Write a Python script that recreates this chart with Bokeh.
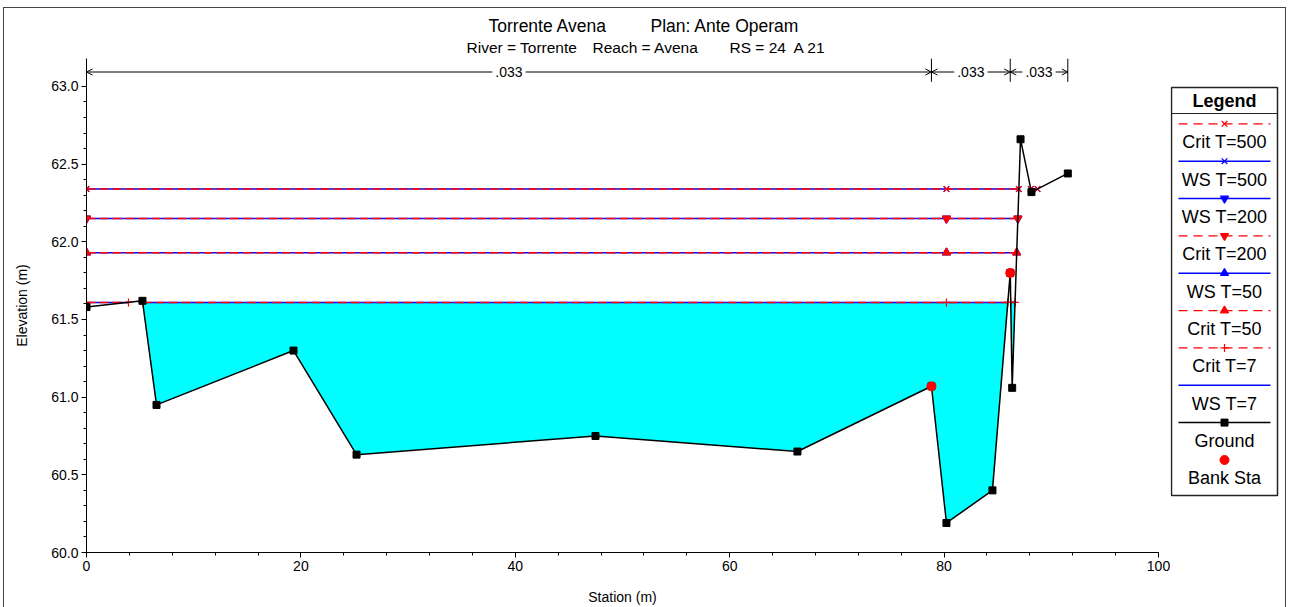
import numpy as np
from bokeh.plotting import figure
from bokeh.layouts import column, row
from bokeh.models import (Range1d, FixedTicker, NumeralTickFormatter, Arrow,
                          OpenHead, Label)
from bokeh.core.properties import value
from bokeh.embed import file_html
from bokeh.resources import INLINE

# ---------------- data ----------------
ground_sta = [0.0, 5.22, 6.53, 19.31, 25.19, 47.48, 66.32, 78.82, 80.22,
              84.51, 86.17, 86.35, 87.13, 88.15, 91.54]
ground_elev = [61.58, 61.62, 60.95, 61.30, 60.63, 60.75, 60.65, 61.07, 60.19,
               60.40, 61.80, 61.06, 62.66, 62.32, 62.44]
bank_sta = [78.82, 86.17]
profiles = ["T=7", "T=50", "T=200", "T=500"]
ws_elev = [61.61, 61.93, 62.15, 62.34]
crit_elev = [61.61, 61.93, 62.15, 62.34]
mid_marker_sta = 80.22
n_values = [".033", ".033", ".033"]
x_ticks = [0, 20, 40, 60, 80, 100]
y_ticks = [60.0, 60.5, 61.0, 61.5, 62.0, 62.5, 63.0]
title_parts = ["Torrente Avena", "Plan: Ante Operam"]
subtitle_parts = ["River = Torrente", "Reach = Avena", "RS = 24", "A 21"]
legend_labels = ["Crit T=500", "WS T=500", "WS T=200", "Crit T=200", "WS T=50",
                 "Crit T=50", "Crit T=7", "WS T=7", "Ground", "Bank Sta"]
x_label = "Station (m)"
y_label = "Elevation (m)"

FONT = "Liberation Sans"
BLUE = "#0000FF"
RED = "#FF0000"
CYAN = "#00FFFF"
marker_of = {"T=7": None, "T=50": "triangle", "T=200": "inverted_triangle",
             "T=500": "x"}
crit_marker_of = {"T=7": "cross", "T=50": "triangle",
                  "T=200": "inverted_triangle", "T=500": "x"}


def wet_intervals(sta, elev, level):
    out = []
    start = sta[0] if elev[0] < level else None
    for i in range(len(sta) - 1):
        x0, y0, x1, y1 = sta[i], elev[i], sta[i + 1], elev[i + 1]
        if (y0 < level) != (y1 < level):
            xc = x0 + (level - y0) * (x1 - x0) / (y1 - y0)
            if start is None:
                start = xc
            else:
                out.append((start, xc))
                start = None
    if start is not None:
        out.append((start, sta[-1]))
    return out


def marker_points(intervals):
    pts = []
    for a, b in intervals:
        pts += [a, b]
        if a < mid_marker_sta < b:
            pts.append(mid_marker_sta)
    return sorted(pts)


HEAD_H = 58
ROW_H = 607 - HEAD_H
BOTTOM = 55
MAIN_W = 1170
LEG_W = 1289 - MAIN_W

# ---------------- main plot ----------------
p = figure(width=MAIN_W, height=ROW_H, x_range=Range1d(0, 100),
           y_range=Range1d(60.0, 63.18), output_backend="svg",
           toolbar_location=None, min_border_left=86, min_border_right=12,
           min_border_top=0, min_border_bottom=BOTTOM)
p.grid.visible = False
p.outline_line_color = None
p.background_fill_color = None
p.border_fill_color = None

# water fill for lowest profile
lvl7 = ws_elev[0]
fx, fy = [], []
for a, b in wet_intervals(ground_sta, ground_elev, lvl7):
    inner = [(s, e) for s, e in zip(ground_sta, ground_elev) if a < s < b]
    xs = [a, b] + [s for s, e in reversed(inner)]
    ys = [lvl7, lvl7] + [e for s, e in reversed(inner)]
    fx.append(xs)
    fy.append(ys)
p.patches(fx, fy, fill_color=CYAN, line_color=None)

# water surfaces (WS blue solid, Crit red dashed)
for prof, lv in zip(profiles, ws_elev):
    iv = wet_intervals(ground_sta, ground_elev, lv)
    p.multi_line([[a, b] for a, b in iv], [[lv, lv] for _ in iv],
                 line_color=BLUE, line_width=1.5)
    m = marker_of[prof]
    if m:
        mx = marker_points(iv)
        p.scatter(mx, [lv] * len(mx), marker=m, size=8, line_color=BLUE,
                  fill_color=BLUE, line_width=1.2)
for prof, lv in zip(profiles, crit_elev):
    iv = wet_intervals(ground_sta, ground_elev, lv)
    p.multi_line([[a, b] for a, b in iv], [[lv, lv] for _ in iv],
                 line_color=RED, line_width=1.5, line_dash="9 4")
    m = crit_marker_of[prof]
    mx = marker_points(iv)
    p.scatter(mx, [lv] * len(mx), marker=m, size=8, line_color=RED,
              fill_color=RED, line_width=1.2)

# ground
p.line(ground_sta, ground_elev, line_color="black", line_width=1.5)
p.scatter(ground_sta, ground_elev, marker="square", size=7, color="black")
bank_elev = list(np.interp(bank_sta, ground_sta, ground_elev))
p.scatter(bank_sta, bank_elev, marker="circle", size=9, color=RED)

# Manning's n bars
breaks = [ground_sta[0]] + bank_sta + [ground_sta[-1]]
y_arrow = 63.093
p.segment(x0=breaks[1:], x1=breaks[1:], y0=[63.03] * 3, y1=[63.18] * 3,
          line_color="black", line_width=1)
for i, nv in enumerate(n_values):
    a, b = breaks[i], breaks[i + 1]
    p.add_layout(Arrow(start=OpenHead(size=6, line_width=1, line_color="black"),
                       end=OpenHead(size=6, line_width=1, line_color="black"),
                       x_start=a, y_start=y_arrow, x_end=b, y_end=y_arrow,
                       line_color="black", line_width=1))
    p.add_layout(Label(x=(a + b) / 2, y=y_arrow, text=nv, text_align="center",
                       text_baseline="middle", text_font=FONT,
                       text_font_size="14px", text_color="black",
                       background_fill_color="white", padding=3))

# axes
p.xaxis.ticker = FixedTicker(ticks=x_ticks,
                             minor_ticks=list(np.arange(0, 100.01, 4)))
p.yaxis.ticker = FixedTicker(ticks=y_ticks,
                             minor_ticks=list(np.round(np.arange(60.0, 63.001, 0.1), 2)))
p.yaxis.formatter = NumeralTickFormatter(format="0.0")
for ax in (p.xaxis, p.yaxis):
    ax.axis_line_color = "black"
    ax.major_tick_line_color = "black"
    ax.minor_tick_line_color = "black"
    ax.major_tick_out = 5
    ax.major_tick_in = 0
    ax.minor_tick_out = 3
    ax.minor_tick_in = 0
    ax.major_label_text_font = FONT
    ax.major_label_text_font_size = "14px"
    ax.major_label_text_color = "black"
    ax.axis_label_text_font = FONT
    ax.axis_label_text_font_size = "14px"
    ax.axis_label_text_font_style = "normal"
    ax.axis_label_text_color = "black"
    ax.major_label_standoff = 3
p.xaxis.axis_label = x_label
p.yaxis.axis_label = y_label
p.xaxis.axis_label_standoff = 15
p.yaxis.axis_label_standoff = 18

# ---------------- header ----------------
hd = figure(width=1289, height=HEAD_H, x_range=Range1d(0, 1289),
            y_range=Range1d(HEAD_H, 0), x_axis_type=None, y_axis_type=None,
            output_backend="svg", toolbar_location=None, min_border=0,
            min_border_left=0, min_border_right=0, min_border_top=0,
            min_border_bottom=0)
hd.grid.visible = False
hd.outline_line_color = None
hd.background_fill_color = None
hd.border_fill_color = None
hd.text(x=[488, 650], y=[25, 25], text=title_parts, text_font=value(FONT),
        text_font_size="17.5px", text_align="left", text_baseline="middle",
        text_color="black")
hd.text(x=[466, 592, 729, 793], y=[47, 47, 47, 47], text=subtitle_parts,
        text_font=value(FONT), text_font_size="15.5px", text_align="left",
        text_baseline="middle", text_color="black")

# ---------------- legend ----------------
LEG_FRAME_H = ROW_H - BOTTOM
lg = figure(width=LEG_W, height=ROW_H, x_range=Range1d(0, LEG_W),
            y_range=Range1d(LEG_FRAME_H, 0), x_axis_type=None,
            y_axis_type=None, output_backend="svg", toolbar_location=None,
            min_border=0, min_border_left=0, min_border_right=0,
            min_border_top=0, min_border_bottom=BOTTOM)
lg.grid.visible = False
lg.outline_line_color = None
lg.background_fill_color = None
lg.border_fill_color = None
bx0, bx1, by0, by1 = 1, 107, 29, 437
cx = (bx0 + bx1) / 2
lg.quad(left=bx0, right=bx1, top=by0, bottom=by1, fill_color="white",
        line_color="#222", line_width=1.5)
lg.segment(x0=bx0, x1=bx1, y0=55, y1=55, line_color="#222", line_width=1.2)
lg.text(x=[cx], y=[42], text=["Legend"], text_font=value(FONT),
        text_font_size="18px", text_font_style="bold", text_align="center",
        text_baseline="middle", text_color="black")

for i, lab in enumerate(legend_labels):
    yl = 65.3 + 37.35 * i
    kind, _, prof = lab.partition(" ")
    if lab == "Bank Sta":
        lg.scatter([cx], [yl], marker="circle", size=9, color=RED)
    elif lab == "Ground":
        lg.line([8, 100], [yl, yl], line_color="black", line_width=1.5)
        lg.scatter([cx], [yl], marker="square", size=7, color="black")
    elif kind == "WS":
        lg.line([8, 100], [yl, yl], line_color=BLUE, line_width=1.5)
        m = marker_of[prof]
        if m:
            lg.scatter([cx], [yl], marker=m, size=8, line_color=BLUE,
                       fill_color=BLUE, line_width=1.2)
    else:
        lg.line([8, 100], [yl, yl], line_color=RED, line_width=1.2,
                line_dash="9 6")
        lg.scatter([cx], [yl], marker=crit_marker_of[prof], size=8,
                   line_color=RED, fill_color=RED, line_width=1.2)
    lg.text(x=[cx], y=[yl + 18.5], text=[lab], text_font=value(FONT),
            text_font_size="18px", text_align="center", text_baseline="middle",
            text_color="black")

frame_css = {
    "background-color": "white",
    "background-image": ("linear-gradient(#444,#444), linear-gradient(#444,#444), "
                         "linear-gradient(#444,#444)"),
    "background-size": "1px 600px, 1283px 1px, 1px 600px",
    "background-position": "3px 7px, 3px 7px, 1285px 7px",
    "background-repeat": "no-repeat",
}
layout = column(hd, row(p, lg, spacing=0), spacing=0, styles=frame_css)

open("out.html", "w").write(file_html(layout, INLINE))
